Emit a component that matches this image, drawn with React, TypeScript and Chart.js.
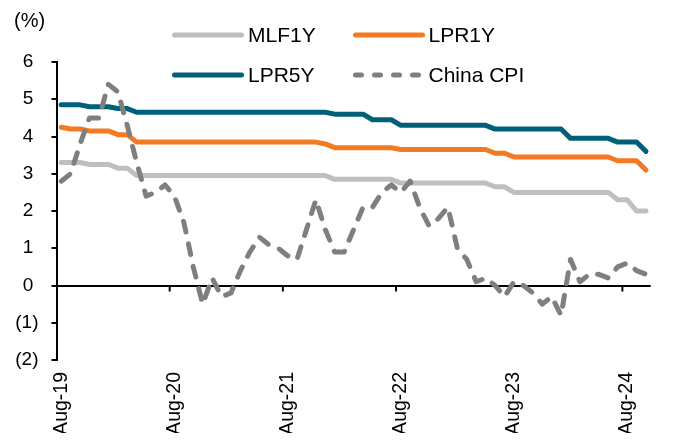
import React, { useEffect, useRef } from 'react';
import { Chart, registerables } from 'chart.js';

Chart.register(...registerables);

const FONT = "'Liberation Sans', Arial, sans-serif";

const months = [
  'Aug-19', 'Sep-19', 'Oct-19', 'Nov-19', 'Dec-19',
  'Jan-20', 'Feb-20', 'Mar-20', 'Apr-20', 'May-20', 'Jun-20', 'Jul-20', 'Aug-20', 'Sep-20', 'Oct-20', 'Nov-20', 'Dec-20',
  'Jan-21', 'Feb-21', 'Mar-21', 'Apr-21', 'May-21', 'Jun-21', 'Jul-21', 'Aug-21', 'Sep-21', 'Oct-21', 'Nov-21', 'Dec-21',
  'Jan-22', 'Feb-22', 'Mar-22', 'Apr-22', 'May-22', 'Jun-22', 'Jul-22', 'Aug-22', 'Sep-22', 'Oct-22', 'Nov-22', 'Dec-22',
  'Jan-23', 'Feb-23', 'Mar-23', 'Apr-23', 'May-23', 'Jun-23', 'Jul-23', 'Aug-23', 'Sep-23', 'Oct-23', 'Nov-23', 'Dec-23',
  'Jan-24', 'Feb-24', 'Mar-24', 'Apr-24', 'May-24', 'Jun-24', 'Jul-24', 'Aug-24', 'Sep-24', 'Oct-24',
];

const mlf1y = [
  3.30, 3.30, 3.30, 3.25, 3.25,
  3.25, 3.15, 3.15, 2.95, 2.95, 2.95, 2.95, 2.95, 2.95, 2.95, 2.95, 2.95,
  2.95, 2.95, 2.95, 2.95, 2.95, 2.95, 2.95, 2.95, 2.95, 2.95, 2.95, 2.95,
  2.85, 2.85, 2.85, 2.85, 2.85, 2.85, 2.85, 2.75, 2.75, 2.75, 2.75, 2.75,
  2.75, 2.75, 2.75, 2.75, 2.75, 2.65, 2.65, 2.50, 2.50, 2.50, 2.50, 2.50,
  2.50, 2.50, 2.50, 2.50, 2.50, 2.50, 2.30, 2.30, 2.00, 2.00,
];

const lpr1y = [
  4.25, 4.20, 4.20, 4.15, 4.15,
  4.15, 4.05, 4.05, 3.85, 3.85, 3.85, 3.85, 3.85, 3.85, 3.85, 3.85, 3.85,
  3.85, 3.85, 3.85, 3.85, 3.85, 3.85, 3.85, 3.85, 3.85, 3.85, 3.85, 3.80,
  3.70, 3.70, 3.70, 3.70, 3.70, 3.70, 3.70, 3.65, 3.65, 3.65, 3.65, 3.65,
  3.65, 3.65, 3.65, 3.65, 3.65, 3.55, 3.55, 3.45, 3.45, 3.45, 3.45, 3.45,
  3.45, 3.45, 3.45, 3.45, 3.45, 3.45, 3.35, 3.35, 3.35, 3.10,
];

const lpr5y = [
  4.85, 4.85, 4.85, 4.80, 4.80,
  4.80, 4.75, 4.75, 4.65, 4.65, 4.65, 4.65, 4.65, 4.65, 4.65, 4.65, 4.65,
  4.65, 4.65, 4.65, 4.65, 4.65, 4.65, 4.65, 4.65, 4.65, 4.65, 4.65, 4.65,
  4.60, 4.60, 4.60, 4.60, 4.45, 4.45, 4.45, 4.30, 4.30, 4.30, 4.30, 4.30,
  4.30, 4.30, 4.30, 4.30, 4.30, 4.20, 4.20, 4.20, 4.20, 4.20, 4.20, 4.20,
  4.20, 3.95, 3.95, 3.95, 3.95, 3.95, 3.85, 3.85, 3.85, 3.60,
];

const chinaCpi = [
  2.8, 3.0, 3.8, 4.5, 4.5,
  5.4, 5.2, 4.3, 3.3, 2.4, 2.5, 2.7, 2.4, 1.7, 0.5, -0.5, 0.2,
  -0.3, -0.2, 0.4, 0.9, 1.3, 1.1, 1.0, 0.8, 0.7, 1.5, 2.3, 1.5,
  0.9, 0.9, 1.5, 2.1, 2.1, 2.5, 2.7, 2.5, 2.8, 2.1, 1.6, 1.8,
  2.1, 1.0, 0.7, 0.1, 0.2, 0.0, -0.3, 0.1, 0.0, -0.2, -0.5, -0.3,
  -0.8, 0.7, 0.1, 0.3, 0.3, 0.2, 0.5, 0.6, 0.4, 0.3,
];

const yMin = -2;
const yMax = 6;
const xLabelEvery = 12;

const series = [
  { label: 'MLF1Y', data: mlf1y, color: '#BFBFBF', dash: [] as number[], order: 3 },
  { label: 'LPR1Y', data: lpr1y, color: '#F47A22', dash: [] as number[], order: 2 },
  { label: 'LPR5Y', data: lpr5y, color: '#00607A', dash: [] as number[], order: 1 },
  { label: 'China CPI', data: chinaCpi, color: '#7F7F7F', dash: [11, 12], order: 0 },
];

// legend layout (grid of 2 x 2)
const legendCols = [164, 344.5];
const legendRows = [27, 66.5];

const zeroTicks = {
  id: 'zeroTicks',
  beforeDatasetsDraw(chart: any) {
    const xs = chart.scales.x;
    const ys = chart.scales.y;
    const ctx = chart.ctx;
    const y0 = ys.getPixelForValue(0);
    const slot = (xs.right - xs.left) / months.length;
    ctx.save();
    ctx.strokeStyle = '#000';
    ctx.lineWidth = 2;
    months.forEach((_m, i) => {
      if (i > 0 && i % xLabelEvery === 0) {
        const px = xs.getPixelForValue(i) - slot / 2;
        ctx.beginPath();
        ctx.moveTo(px, y0);
        ctx.lineTo(px, y0 + 6);
        ctx.stroke();
      }
    });
    ctx.restore();
  },
};

export default function App() {
  const ref = useRef<HTMLCanvasElement | null>(null);

  useEffect(() => {
    if (!ref.current) return;
    const chart = new Chart(ref.current, {
      type: 'line',
      data: {
        labels: months,
        datasets: series.map((s) => ({
          label: s.label,
          data: s.data,
          borderColor: s.color,
          backgroundColor: s.color,
          borderWidth: 5,
          borderDash: s.dash,
          borderCapStyle: 'round',
          borderJoinStyle: 'round',
          pointRadius: 0,
          tension: 0,
          fill: false,
          order: s.order,
        })),
      },
      options: {
        responsive: false,
        animation: false,
        layout: { padding: { left: 6, right: 16.3, top: 0, bottom: 0 } },
        plugins: {
          legend: { display: false },
          tooltip: { enabled: false },
          title: {
            display: true,
            text: '(%)',
            align: 'start',
            color: '#000',
            font: { family: FONT, size: 20, weight: 'normal' },
            padding: { top: 1, bottom: 29 },
          },
        },
        scales: {
          x: {
            type: 'category',
            offset: true,
            grid: { display: false, drawTicks: false },
            border: { display: false },
            ticks: {
              autoSkip: false,
              maxRotation: 90,
              minRotation: 90,
              padding: 12,
              color: '#000',
              font: { family: FONT, size: 19.5 },
              callback: (_v: any, i: number) => (i % xLabelEvery === 0 ? months[i] : ''),
            },
            afterFit: (s: any) => {
              s.height = 73;
              s.paddingLeft = 0;
              s.paddingRight = 0;
            },
          },
          y: {
            min: yMin,
            max: yMax,
            ticks: {
              stepSize: 1,
              padding: 13,
              color: '#000',
              font: { family: FONT, size: 19 },
              callback: (v: any) => (Number(v) < 0 ? `(${-Number(v)})` : `${v} `),
            },
            grid: {
              color: (c: any) => (c.tick && c.tick.value === 0 ? '#000' : 'rgba(0,0,0,0)'),
              tickColor: '#000',
              lineWidth: 2,
              tickLength: 5,
              drawOnChartArea: true,
            },
            border: { display: true, color: '#000', width: 2 },
            afterFit: (s: any) => {
              s.width = 42.5;
            },
          },
        },
      },
      plugins: [zeroTicks],
    } as any);
    return () => chart.destroy();
  }, []);

  return (
    <div style={{ position: 'relative', width: 659, height: 425 }}>
      <canvas ref={ref} width={659} height={425} style={{ display: 'block' }} />
      {series.map((s, i) => {
        const left = legendCols[i % 2];
        const cy = legendRows[Math.floor(i / 2)];
        return (
          <React.Fragment key={s.label}>
            <svg
              width={72}
              height={8}
              style={{ position: 'absolute', left, top: cy - 4 }}
            >
              <line
                x1={2.5}
                y1={4}
                x2={69.5}
                y2={4}
                stroke={s.color}
                strokeWidth={5}
                strokeLinecap="round"
                strokeDasharray={s.dash.length ? '6 13' : undefined}
              />
            </svg>
            <div
              style={{
                position: 'absolute',
                left: left + 76,
                top: cy - 12,
                height: 24,
                lineHeight: '24px',
                fontSize: 21,
                fontFamily: FONT,
                color: '#000',
                whiteSpace: 'nowrap',
              }}
            >
              {s.label}
            </div>
          </React.Fragment>
        );
      })}
    </div>
  );
}
